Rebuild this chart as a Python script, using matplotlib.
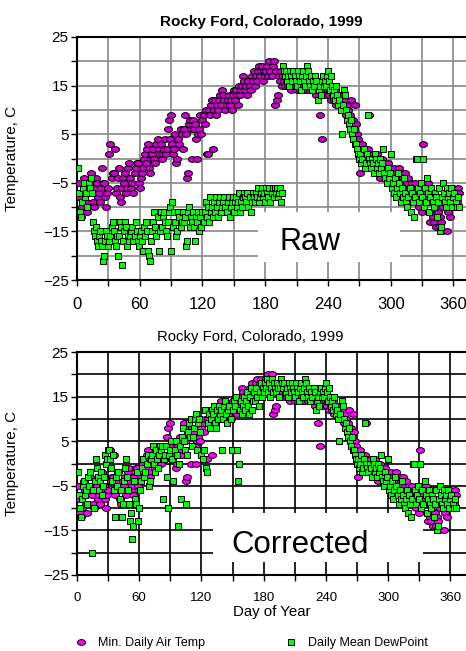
import numpy as np
import matplotlib
matplotlib.use("Agg")
import matplotlib.pyplot as plt
from matplotlib.path import Path
from matplotlib.transforms import Affine2D
from matplotlib.patches import Rectangle
from matplotlib.lines import Line2D

plt.rcParams['font.family'] = ['Liberation Sans', 'DejaVu Sans']

title = "Rocky Ford, Colorado, 1999"
days = np.arange(1, 366)

# min daily air temperature, days 1-365
tmin = [
    -5, -8, -11, -12, -10, -7, -4, -6, -9, -11,
    -6, -5, -3, -7, -9, -10, -6, -4, -5, -8,
    -7, -9, -6, -2, -5, -5, -8, -10, -7, -6,
    1, 3, -4, -3, -3, 2, -7, -6, -4, -2,
    -8, -9, -6, -4, -5, -3, -7, -6, -2, -1,
    -4, -6, -5, -7, -3, -2, -1, -1, -5, -6,
    -4, -3, -2, 0, 1, -1, 2, 3, -2, -3,
    0, 1, 2, 0, -1, 3, 4, 2, 1, 3,
    0, 1, 2, 4, 1, 2, 6, 8, 4, 9,
    3, 1, 2, 5, -1, 0, 4, 3, 6, 5,
    2, 6, 9, 5, -4, -3, 7, 8, 6, 0,
    8, 6, 7, 4, 0, 5, 6, 9, 5, 8,
    9, 7, 10, 1, 1, 10, 9, 11, 12, 2,
    10, 12, 9, 11, 10, 12, 13, 11, 14, 13,
    12, 10, 11, 12, 13, 11, 12, 10, 13, 14,
    12, 14, 13, 11, 15, 13, 14, 15, 17, 16,
    14, 15, 13, 16, 15, 14, 17, 16, 18, 15,
    17, 16, 18, 19, 17, 18, 19, 16, 18, 17,
    18, 19, 17, 20, 18, 17, 19, 20, 11, 18,
    12, 13, 17, 16, 18, 15, 17, 16, 15, 17,
    16, 15, 17, 16, 14, 15, 17, 16, 15, 14,
    16, 15, 14, 16, 17, 15, 14, 16, 15, 14,
    15, 16, 14, 15, 17, 14, 16, 15, 13, 15,
    14, 9, 16, 4, 15, 14, 13, 16, 15, 14,
    13, 14, 12, 15, 13, 12, 14, 11, 13, 12,
    11, 13, 12, 10, 11, 12, 9, 11, 10, 8,
    9, 12, 7, 8, 6, 11, 7, 5, 4, 3,
    -3, 2, 3, 1, 2, 0, 1, 2, 9, 1,
    0, -1, 1, -2, 0, -1, 1, -3, 0, -4,
    -2, 0, -1, -3, -2, -4, -1, -3, -2, -5,
    -3, -4, -2, -5, -3, -6, -4, -2, -5, -3,
    -5, -4, -6, -3, -7, -5, -4, -6, -8, -5,
    -6, -7, -5, -9, -8, -6, -10, -7, -9, -11,
    3, -8, -6, -7, -9, -5, -11, -13, -8, -12,
    -13, -10, -14, -9, -11, -14, -12, -13, -15, -10,
    -8, -7, -9, -15, -11, -8, -12, -9, -10, -6,
    -7, -8, -9, -6, -7,
]

# raw dewpoint, days 1-196 (faulty sensor period)
dew_raw_early = [
    -2, -7, -11, -12, -9, -6, -5, -8, -7, -10,
    -5, -6, -4, -7, -13, -15, -16, -14, -17, -18,
    -16, -15, -17, -18, -21, -20, -17, -15, -16, -18,
    -17, -16, -14, -13, -15, -17, -18, -16, -20, -16,
    -13, -14, -22, -17, -15, -13, -14, -18, -16, -17,
    -16, -15, -14, -17, -16, -13, -15, -17, -18, -16,
    -15, -17, -19, -14, -16, -13, -15, -19, -20, -21,
    -17, -15, -13, -11, -14, -16, -12, -19, -15, -11,
    -14, -12, -11, -13, -15, -16, -13, -11, -10, -19,
    -9, -14, -11, -13, -16, -15, -11, -12, -14, -13,
    -11, -13, -12, -18, -17, -11, -10, -14, -12, -13,
    -11, -14, -17, -12, -13, -11, -15, -12, -14, -11,
    -13, -11, -9, -12, -10, -13, -8, -11, -10, -12,
    -9, -11, -8, -10, -12, -9, -8, -11, -10, -9,
    -8, -10, -11, -9, -8, -12, -10, -9, -8, -11,
    -9, -8, -10, -9, -7, -11, -9, -10, -8, -7,
    -8, -9, -7, -10, -8, -11, -9, -7, -8, -9,
    -7, -8, -6, -9, -8, -7, -6, -8, -7, -9,
    -6, -7, -8, -6, -9, -7, -6, -8, -6, -7,
    -6, -8, -7, -6, -9, -7,
]

# corrected dewpoint, days 1-196
dew_corr_early = [
    -2, -7, -10, -12, -8, -5, -4, -7, -6, -9,
    -3, -5, -2, -20, -6, -10, -4, 1, -1, -3,
    -6, -4, -2, -7, -5, -3, 2, 0, 1, 3,
    3, 1, -1, -4, 2, -6, -12, -3, -5, -2,
    -8, -6, -12, -9, -4, -1, 1, -3, -6, -9,
    -13, -11, -17, -14, -4, -8, -9, -2, -13, -10,
    -6, -4, -1, 1, -3, -2, 0, 2, -5, -4,
    1, 2, 4, 0, -2, 3, 1, -1, 2, 4,
    3, 4, -8, 1, 2, 4, -3, -10, 2, 3,
    5, 1, -4, 3, 5, 2, -14, 0, 4, -8,
    6, 8, 5, 3, -9, 2, 7, 9, 6, 10,
    4, 6, 8, 10, 11, 3, 9, 10, 7, 2,
    1, 3, 12, -1, -2, 9, 11, 8, 10, 12,
    11, 13, 9, 8, 12, 10, 13, 11, 12, 3,
    10, 13, 14, 11, 9, 12, 13, 10, 3, 12,
    14, 13, 15, 3, -4, 0, 12, 14, 11, 13,
    15, 12, 14, 16, 13, 11, 15, 17, 12, 14,
    16, 14, 17, 15, 13, 16, 18, 15, 17, 16,
    18, 17, 19, 16, 18, 15, 17, 19, 16, 18,
    17, 16, 18, 17, 15, 17,
]

# dewpoint, days 197-365 (same in both panels)
dew_late = [
    19, 18, 17, 18, 16, 17, 15, 18, 17, 16,
    18, 17, 16, 15, 18, 17, 16, 14, 17, 18,
    16, 15, 17, 19, 18, 16, 15, 17, 14, 16,
    15, 17, 16, 12, 14, 15, 13, 16, 17, 15,
    16, 15, 17, 18, 16, 14, 17, 15, 13, 14,
    12, 15, 13, 11, 12, 10, 5, 11, 14, 13,
    10, 8, 9, 7, 6, 8, 5, 4, 6, 3,
    3, 2, 1, 0, 1, -1, 0, 2, -2, -1,
    1, 9, 0, -1, -2, 0, -1, -3, 1, 0,
    -2, -1, -3, 0, -2, -1, 2, -3, -4, -5,
    -2, -4, -3, 1, -6, -5, -7, -4, -8, -6,
    -3, -5, -7, -9, -6, -8, -4, -7, -9, -10,
    -8, -6, -11, -7, -9, -12, -8, 0, 0, -6,
    -9, -7, -5, -8, 0, -10, -6, -9, -4, -7,
    -11, -8, -6, -9, -10, -7, -8, -12, -9, -6,
    -15, -14, -8, -5, -7, -9, -10, -6, -8, -7,
    -9, -6, -10, -8, -7, -9, -10, -8, -10,
]

dew_raw = dew_raw_early + dew_late
dew_corr = dew_corr_early + dew_late

ell = Path.unit_circle().transformed(Affine2D().scale(1.0, 0.72))

fig = plt.figure(figsize=(4.66, 6.51), dpi=100)
W, H = 466, 651

def setup(ax, gridcolor, xmax, xfs, yfs):
    ax.set_xlim(0, xmax)
    ax.set_ylim(-25, 25)
    ax.set_xticks(np.arange(0, 361, 60))
    ax.set_xticks(np.arange(30, 361, 60), minor=True)
    ax.set_yticks(np.arange(-25, 26, 10))
    ax.set_yticks(np.arange(-20, 21, 10), minor=True)
    ax.grid(True, which='both', color=gridcolor, lw=1.2)
    ax.set_axisbelow(True)
    ax.spines['right'].set_visible(False)
    for s in ['left', 'top', 'bottom']:
        ax.spines[s].set_linewidth(1.5)
    ax.tick_params(which='both', direction='out', length=4, width=1)
    ax.tick_params(axis='x', labelsize=xfs)
    ax.tick_params(axis='y', labelsize=yfs, pad=2)
    ax.set_ylabel("Temperature, C", fontsize=11)
    ax.yaxis.set_label_coords(-0.148, 0.5)

# top panel: raw
ax1 = fig.add_axes([77 / W, 1 - 280 / H, (W - 77) / W, 243 / H])
setup(ax1, '#888888', 372, 12, 11)
ax1.tick_params(axis='x', pad=8)
ax1.plot(days, tmin, ls='none', marker=ell, ms=5.8, mfc='#CC00CC', mec='black', mew=0.7, zorder=3)
ax1.plot(days, dew_raw, ls='none', marker='s', ms=5.0, mfc='#00FF00', mec='black', mew=0.7, zorder=4)
ax1.add_patch(Rectangle((173, -21.3), 136, 10.3, facecolor='white', edgecolor='none', zorder=1))
ax1.text(223, -18.8, "Raw", fontsize=22, ha='center', va='baseline', zorder=2)
fig.text(261 / W, 1 - 22 / H, title, ha='center', va='center', fontsize=11, fontweight='bold')

# bottom panel: corrected
ax2 = fig.add_axes([77 / W, 1 - 575 / H, (W - 77) / W, 223 / H])
setup(ax2, 'black', 375, 9.5, 11)
ax2.tick_params(axis='x', pad=8)
ax2.plot(days, tmin, ls='none', marker=ell, ms=5.8, mfc='#FF00FF', mec='black', mew=0.7, zorder=3)
ax2.plot(days, dew_corr, ls='none', marker='s', ms=5.0, mfc='#00FF00', mec='black', mew=0.7, zorder=4)
ax2.add_patch(Rectangle((131, -22), 203, 11, facecolor='white', edgecolor='none', zorder=1))
ax2.text(215, -20, "Corrected", fontsize=22.5, ha='center', va='baseline', zorder=2)
ax2.set_xlabel("Day of Year", fontsize=10.8, labelpad=1)
fig.text(250 / W, 1 - 337 / H, title, ha='center', va='center', fontsize=10.7)

handles = [
    Line2D([], [], ls='none', marker=ell, ms=5.8, mfc='#FF00FF', mec='black', mew=0.7),
    Line2D([], [], ls='none', marker='s', ms=5.0, mfc='#00FF00', mec='black', mew=0.7),
]
fig.legend(handles, ["Min. Daily Air Temp", "Daily Mean DewPoint"], ncol=2, frameon=False,
           loc='center', bbox_to_anchor=(251 / W, 1 - 643 / H), fontsize=9,
           handlelength=1.0, handletextpad=0.85, columnspacing=6.4)

fig.savefig("out.png", dpi=100)
